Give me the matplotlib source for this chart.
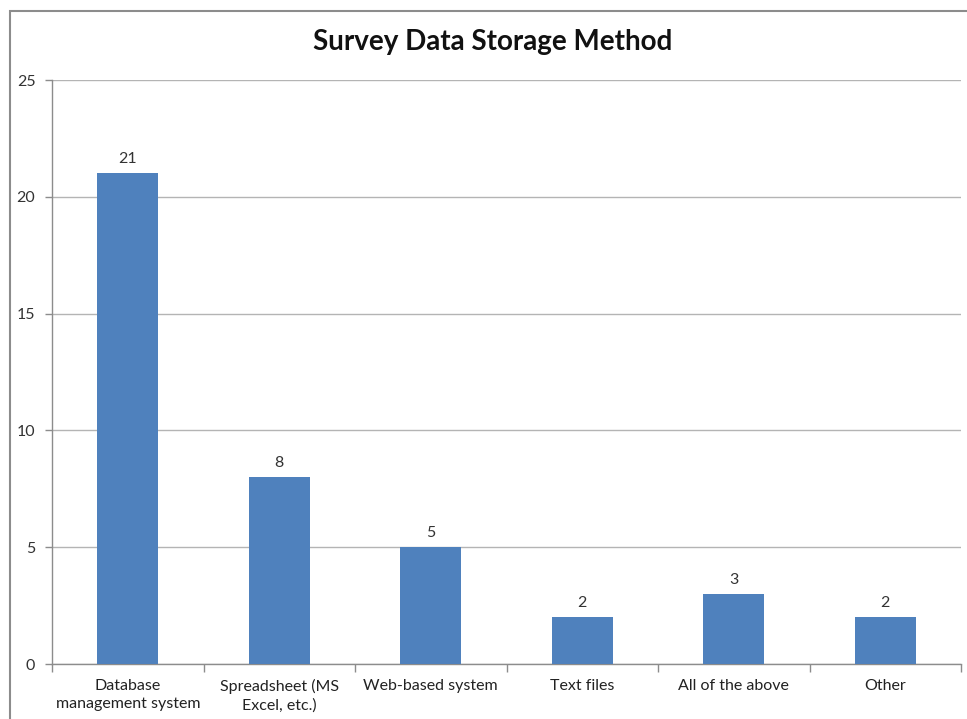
import matplotlib
matplotlib.use("Agg")
import matplotlib.pyplot as plt
from matplotlib.patches import Rectangle

categories = ["Database\nmanagement system", "Spreadsheet (MS\nExcel, etc.)",
              "Web-based system", "Text files", "All of the above", "Other"]
values = [21, 8, 5, 2, 3, 2]
yticks = [0, 5, 10, 15, 20, 25]

plt.rcParams['font.family'] = ['Lato', 'DejaVu Sans']

W, H = 967, 719
fig = plt.figure(figsize=(W / 100, H / 100), dpi=100)
fig.patch.set_facecolor("white")

# outer chart frame (cropped at right/bottom)
fig.patches.append(Rectangle((10 / W, -0.1), 1.2, (H - 11) / H + 0.1,
                             transform=fig.transFigure, fill=False,
                             edgecolor="#8c8c8c", linewidth=1.5))

ax = fig.add_axes([52 / W, (H - 664) / H, (961 - 52) / W, (664 - 80) / H])
x = list(range(len(categories)))
ax.bar(x, values, width=0.4, color="#4F81BD", zorder=3)
for xi, v in zip(x, values):
    ax.annotate(str(v), (xi, v), xytext=(0, 5), textcoords="offset points",
                ha="center", va="bottom", fontsize=11.5, color="#333333")

ax.set_xlim(-0.5, len(categories) - 0.5)
ax.set_ylim(0, 25)
ax.set_yticks(yticks)
ax.set_yticklabels([str(t) for t in yticks], fontsize=11.5, color="#333333")
ax.yaxis.grid(True, color="#b4b4b4", linewidth=1.0, zorder=0)
ax.set_axisbelow(True)

ax.set_xticks(x)
ax.set_xticklabels(categories, fontsize=11.5, color="#222222", linespacing=1.35)
ax.tick_params(axis="x", length=0, pad=11)
ax.set_xticks([i - 0.5 for i in range(len(categories) + 1)], minor=True)
ax.tick_params(axis="x", which="minor", length=6, color="#8c8c8c", width=1)
ax.tick_params(axis="y", length=5, color="#8c8c8c", width=1, pad=7)

for s in ["top", "right"]:
    ax.spines[s].set_visible(False)
for s in ["left", "bottom"]:
    ax.spines[s].set_color("#8c8c8c")
    ax.spines[s].set_linewidth(1.0)

fig.text(493 / W, 1 - 42 / H, "Survey Data Storage Method", ha="center",
         va="center", fontsize=20, fontweight="bold", color="#111111")

fig.savefig("out.png", dpi=100)
